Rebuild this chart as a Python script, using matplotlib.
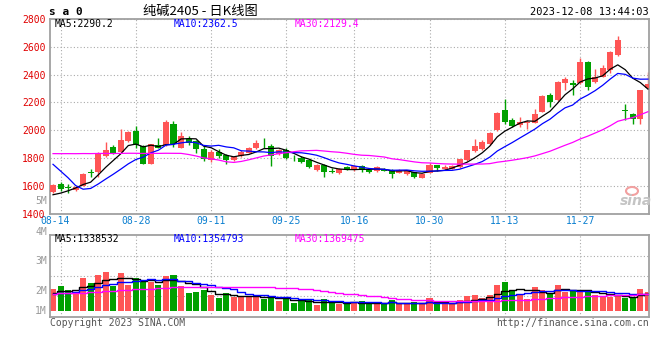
import matplotlib
matplotlib.use("Agg")
import matplotlib.pyplot as plt
import numpy as np
import pandas as pd
from matplotlib.patches import Ellipse
from matplotlib.transforms import ScaledTranslation

# daily K line, 2023-08-11 .. 2023-12-08
opens = [1555, 1612, 1588, 1568, 1598, 1694, 1698, 1811, 1878, 1842,
         1920, 1992, 1883, 1758, 1890, 1890, 2042, 1874, 1933, 1920,
         1867, 1787, 1842, 1818, 1784, 1815, 1839, 1870, 1901, 1887,
         1827, 1858, 1800, 1803, 1784, 1710, 1746, 1705, 1691, 1734,
         1710, 1741, 1710, 1708, 1722, 1715, 1693, 1686, 1698, 1657,
         1694, 1746, 1717, 1722, 1734, 1782, 1847, 1862, 1898, 2004,
         2143, 2076, 2035, 2050, 2054, 2131, 2251, 2215, 2340, 2340,
         2336, 2492, 2348, 2384, 2432, 2540, 2140, 2119, 2078, 2300]
highs = [1610, 1628, 1609, 1595, 1690, 1720, 1842, 1912, 1893, 2005,
         1995, 2028, 1890, 1900, 1947, 2076, 2069, 1990, 1956, 1930,
         1883, 1856, 1862, 1825, 1815, 1856, 1880, 1932, 1942, 1899,
         1865, 1870, 1820, 1815, 1795, 1755, 1755, 1730, 1730, 1741,
         1746, 1746, 1715, 1741, 1730, 1720, 1717, 1715, 1700, 1690,
         1760, 1750, 1746, 1750, 1795, 1860, 1939, 1927, 1985, 2130,
         2227, 2085, 2095, 2071, 2155, 2250, 2268, 2355, 2379, 2360,
         2521, 2500, 2437, 2468, 2568, 2677, 2187, 2125, 2292, 2420]
lows = [1550, 1560, 1545, 1562, 1595, 1662, 1665, 1805, 1826, 1840,
        1915, 1870, 1755, 1755, 1868, 1885, 1876, 1870, 1895, 1839,
        1778, 1770, 1800, 1756, 1779, 1810, 1835, 1865, 1870, 1739,
        1822, 1790, 1780, 1765, 1730, 1705, 1662, 1690, 1686, 1712,
        1705, 1700, 1693, 1700, 1703, 1657, 1688, 1680, 1655, 1652,
        1688, 1705, 1712, 1718, 1730, 1778, 1840, 1858, 1895, 1992,
        2047, 2020, 2023, 2011, 2050, 2128, 2163, 2210, 2288, 2251,
        2330, 2288, 2340, 2380, 2408, 2535, 2076, 2047, 2047, 2295]
closes = [1605, 1578, 1584, 1590, 1686, 1690, 1838, 1859, 1835, 1927,
          1987, 1891, 1758, 1897, 1874, 2059, 1897, 1956, 1908, 1867,
          1795, 1842, 1813, 1782, 1808, 1846, 1875, 1907, 1897, 1815,
          1858, 1796, 1796, 1772, 1734, 1746, 1698, 1701, 1722, 1717,
          1741, 1710, 1698, 1734, 1708, 1681, 1710, 1710, 1662, 1686,
          1746, 1727, 1734, 1741, 1790, 1855, 1883, 1915, 1980, 2126,
          2059, 2028, 2059, 2059, 2114, 2244, 2203, 2348, 2365, 2324,
          2492, 2312, 2384, 2444, 2562, 2648, 2136, 2078, 2288, 2330]
# closes before the first bar, only feed the moving averages
pre_closes = [1590, 1575, 1600, 1660, 1700, 1810, 1850, 1850, 1900, 1960,
              1900, 1790, 1880, 1880, 2030, 1910, 1965, 2150, 2190, 2200,
              2060, 2070, 2150, 1950, 1635, 1520, 1500, 1490, 1560]

# volume, million lots
vol_m = [1.78, 2.02, 1.70, 1.56, 2.67, 2.26, 2.90, 3.15, 2.02, 3.07,
         2.10, 2.67, 2.37, 2.37, 2.10, 2.82, 2.90, 2.02, 1.45, 1.53,
         1.70, 1.29, 1.05, 1.45, 1.13, 1.13, 1.13, 1.21, 0.97, 1.21,
         0.81, 0.97, 0.64, 0.81, 0.89, 0.48, 0.97, 0.64, 0.56, 0.56,
         0.70, 0.81, 0.56, 0.70, 0.56, 0.89, 0.56, 0.56, 0.70, 0.56,
         1.05, 0.62, 0.56, 0.56, 0.89, 1.21, 1.29, 1.05, 1.29, 2.10,
         2.34, 1.72, 1.29, 0.99, 1.94, 1.72, 1.48, 2.13, 1.56, 1.72,
         1.56, 1.56, 1.29, 1.15, 1.15, 1.24, 1.07, 1.07, 1.80, 1.56]
pre_vol_m = [1.32, 1.50, 1.41, 1.23, 1.58, 1.50, 1.32, 1.41, 1.67, 1.50,
             1.32, 1.41, 1.23, 1.41, 1.50, 1.58, 1.41, 1.32, 1.41, 1.50,
             1.14, 1.06, 1.23, 1.14, 1.32, 1.41, 1.50, 1.32, 1.41]

date_idx = [1, 11, 21, 31, 40, 50, 60, 70]
date_labels = ["08-14", "08-28", "09-11", "09-25", "10-16", "10-30", "11-13", "11-27"]
price_ticks = [1400, 1600, 1800, 2000, 2200, 2400, 2600, 2800]
ma_text = ["MA5:2290.2", "MA10:2362.5", "MA30:2129.4"]
vol_ma_text = ["MA5:1338532", "MA10:1354793", "MA30:1369475"]
vol_labels = ["5M", "4M", "3M", "2M", "1M"]

plt.rcParams['font.family'] = ['DejaVu Sans Mono']

UP = '#ff5555'
DOWN = '#00a000'
GRID = '#aaaaaa'
BORDER = '#a0a0a0'
ma_colors = ['black', '#0000ff', '#ff00ff']

W, H = 660, 360


def fx(x):
    return x / W


def fy(y):
    return 1 - y / H


o = np.array(opens)
h = np.array(highs)
l = np.array(lows)
c = np.array(closes)
x = np.arange(len(c))
col = np.where(c >= o, UP, DOWN)

full_c = pd.Series(pre_closes + closes)
full_v = pd.Series(pre_vol_m + vol_m)
n0 = len(pre_closes)
ma = [full_c.rolling(n).mean().to_numpy()[n0:] for n in (5, 10, 30)]
vma = [full_v.rolling(n).mean().to_numpy()[n0:] for n in (5, 10, 30)]

fig = plt.figure(figsize=(6.6, 3.6), dpi=100)
ax = fig.add_axes([fx(50), fy(213.5), fx(599), (213.5 - 19) / H])
axv = fig.add_axes([fx(50), fy(317.3), fx(599), (317.3 - 234.7) / H])

xlim = (-0.4, 79.15)

# ---- price panel
ax.set_xlim(*xlim)
ax.set_ylim(1400, 2800)
ax.set_yticks(price_ticks)
ax.set_xticks(date_idx, date_labels)
ax.tick_params(axis='y', length=0, pad=3, labelsize=7, labelcolor='#e00000')
ax.tick_params(axis='x', length=0, pad=1.5, labelsize=7, labelcolor='#0a7fd0')
ax.grid(True, color=GRID, ls=(0, (1, 2)), lw=0.8)
ax.set_axisbelow(True)

body = np.maximum(np.abs(c - o), 6)
ax.vlines(x, l, h, colors=col, lw=1, zorder=2)
ax.bar(x, body, bottom=np.minimum(o, c), width=0.8, color=col, lw=0, zorder=3)
for m, cl in zip(ma, ma_colors):
    ax.plot(x, m, color=cl, lw=0.9, zorder=4)

# first date label sits a bit left, as in the original
lab0 = ax.get_xticklabels()[0]
lab0.set_transform(lab0.get_transform() + ScaledTranslation(-5 / 100, 0, fig.dpi_scale_trans))

# ---- volume panel
lo, hi = -0.51, 6.15
axv.set_xlim(*xlim)
axv.set_ylim(lo, hi)
axv.set_xticks(date_idx)
axv.set_yticks([])
axv.tick_params(axis='x', length=0, labelbottom=False)
axv.grid(True, axis='x', color=GRID, ls=(0, (1, 2)), lw=0.8)
for f in (0.262, 0.504, 0.746):
    axv.axhline(lo + f * (hi - lo), color=GRID, ls=(0, (1, 2)), lw=0.8, zorder=0)
axv.set_axisbelow(True)
axv.bar(x, vol_m, width=0.8, color=col, lw=0, zorder=2)
for m, cl in zip(vma, ma_colors):
    axv.plot(x, m, color=cl, lw=1, drawstyle='steps-mid', zorder=3)

for a in (ax, axv):
    for s in a.spines.values():
        s.set_color(BORDER)
        s.set_linewidth(1.3)

# ---- texts
for t, cl, xp in zip(ma_text, ma_colors, (55, 174, 295)):
    fig.text(fx(xp), fy(24), t, color=cl, fontsize=7, va='center')
for t, cl, xp in zip(vol_ma_text, ma_colors, (55, 174, 295)):
    fig.text(fx(xp), fy(238.5), t, color=cl, fontsize=7, va='center')
for t, yp in zip(vol_labels, (200.5, 231.5, 261, 290.5, 311)):
    fig.text(fx(47), fy(yp), t, color='#999999', fontsize=7, ha='right', va='center')

fig.text(fx(49), fy(12), "s a 0", fontsize=8, fontweight='bold', va='center')
fig.text(fx(200), fy(11), "纯碱2405 - 日K线图", fontsize=9.5, ha='center', va='center',
         family=['Noto Sans CJK SC', 'DejaVu Sans'])
fig.text(fx(649), fy(12), "2023-12-08 13:44:03", fontsize=7.5, ha='right', va='center')
fig.text(fx(50), fy(323), "Copyright 2023 SINA.COM", fontsize=7, color='#555555', va='center')
fig.text(fx(649), fy(323.5), "http://finance.sina.com.cn", fontsize=7, color='#555555',
         ha='right', va='center')

# sina watermark
fig.add_artist(Ellipse((fx(632), fy(191)), 12 / W, 8 / H, transform=fig.transFigure,
                       fill=False, edgecolor='#f2a0a0', lw=1.5))
fig.text(fx(636), fy(201), "sina", fontsize=10, fontstyle='italic', fontweight='bold',
         color='#c4c4c4', ha='center', va='center', family='DejaVu Sans')

fig.savefig("out.png", dpi=100)
